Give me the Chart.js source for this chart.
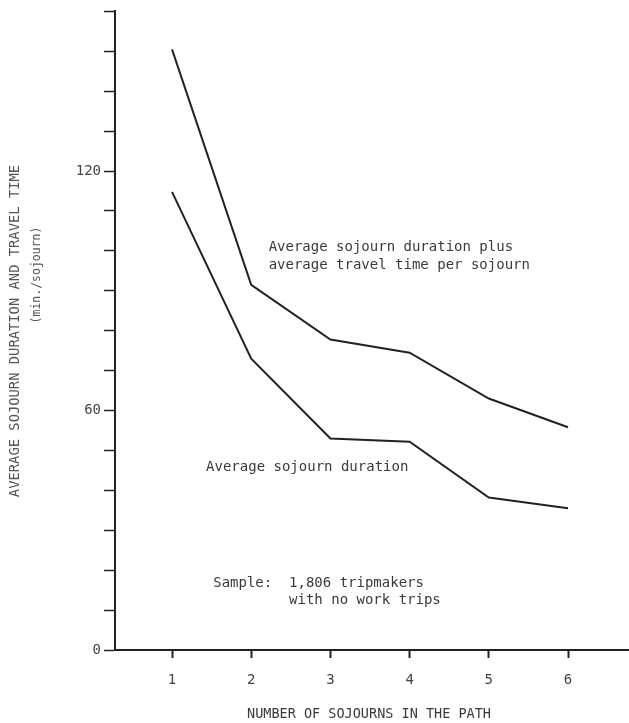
<!DOCTYPE html>
<html>
<head>
<meta charset="utf-8">
<script src="https://cdn.jsdelivr.net/npm/chart.js@4/dist/chart.umd.min.js"></script>
<style>
  html, body { margin: 0; padding: 0; background: #fff; }
  #wrap { width: 629px; height: 723px; position: relative; }
</style>
</head>
<body>
<div id="wrap"><canvas id="c" width="629" height="723"></canvas></div>
<script>
// ---- Data ----
const sojourns = [1, 2, 3, 4, 5, 6];
const durationPlusTravel = [150.5, 91.5, 77.8, 74.5, 63, 55.8];
const durationOnly = [114.8, 73, 53, 52.2, 38.2, 35.5];
const xTickValues = [1, 2, 3, 4, 5, 6];
const yLabelledTicks = [0, 60, 120];

const xTitle = "NUMBER OF SOJOURNS IN THE PATH";
const yTitleLine1 = "AVERAGE SOJOURN DURATION AND TRAVEL TIME";
const yTitleLine2 = "(min./sojourn)";

const annotations = [
  { x: 2.22, y: 100.8, lines: ["Average sojourn duration plus", "average travel time per sojourn"] },
  { x: 1.43, y: 45.8, lines: ["Average sojourn duration"] },
  { x: 1.52, y: 16.8, lines: ["Sample:  1,806 tripmakers", "         with no work trips"] }
];

const MONO = '"DejaVu Sans Mono", "Liberation Mono", monospace';
const INK = '#222';
const TEXT = '#3a3a3a';

const textPlugin = {
  id: 'textPlugin',
  afterDraw(chart) {
    const ctx = chart.ctx;
    const xs = chart.scales.x, ys = chart.scales.y;
    ctx.save();
    ctx.fillStyle = TEXT;
    ctx.textBaseline = 'middle';
    ctx.textAlign = 'left';
    ctx.font = '14px ' + MONO;
    annotations.forEach(a => {
      const px = xs.getPixelForValue(a.x);
      const py = ys.getPixelForValue(a.y);
      a.lines.forEach((ln, i) => ctx.fillText(ln, px, py + i * 17.5));
    });
    // x title
    ctx.textAlign = 'center';
    ctx.font = '13.5px ' + MONO;
    ctx.fillText(xTitle, 369, 714);
    // y title (rotated)
    ctx.save();
    ctx.translate(15, 331);
    ctx.rotate(-Math.PI / 2);
    ctx.font = '13.8px ' + MONO;
    ctx.fillStyle = '#555';
    ctx.fillText(yTitleLine1, 0, 0);
    ctx.restore();
    ctx.save();
    ctx.translate(37, 275);
    ctx.rotate(-Math.PI / 2);
    ctx.font = '11.5px ' + MONO;
    ctx.fillStyle = '#555';
    ctx.fillText(yTitleLine2, 0, 0);
    ctx.restore();
    ctx.restore();
  }
};

new Chart(document.getElementById('c'), {
  type: 'line',
  data: {
    datasets: [
      {
        label: 'Average sojourn duration plus average travel time per sojourn',
        data: sojourns.map((x, i) => ({ x, y: durationPlusTravel[i] })),
        borderColor: INK, borderWidth: 2, pointRadius: 0, tension: 0, fill: false
      },
      {
        label: 'Average sojourn duration',
        data: sojourns.map((x, i) => ({ x, y: durationOnly[i] })),
        borderColor: INK, borderWidth: 2, pointRadius: 0, tension: 0, fill: false
      }
    ]
  },
  options: {
    responsive: false,
    animation: false,
    devicePixelRatio: 1,
    layout: { padding: { top: 11, right: 0, left: 0, bottom: 0 } },
    plugins: { legend: { display: false }, tooltip: { enabled: false }, title: { display: false } },
    scales: {
      x: {
        type: 'linear',
        min: 0.28,
        max: 6.77,
        afterBuildTicks(scale) { scale.ticks = xTickValues.map(v => ({ value: v })); },
        afterFit(scale) { scale.height = 73; },
        border: { display: true, color: INK, width: 2 },
        grid: { drawOnChartArea: false, drawTicks: true, tickLength: 8, color: INK, tickColor: INK, tickWidth: 2 },
        ticks: { color: '#444', font: { family: MONO, size: 14 }, padding: 14, maxRotation: 0, callback: v => String(v) }
      },
      y: {
        type: 'linear',
        min: 0,
        max: 160,
        afterBuildTicks(scale) {
          const t = [];
          for (let v = 0; v <= 160; v += 10) t.push({ value: v });
          scale.ticks = t;
        },
        afterFit(scale) { scale.width = 115; },
        border: { display: true, color: INK, width: 2 },
        grid: { drawOnChartArea: false, drawTicks: true, tickLength: 11, color: INK, tickColor: INK, tickWidth: 1.5 },
        ticks: {
          color: '#444', font: { family: MONO, size: 14 }, padding: 3,
          autoSkip: false,
          callback: v => (yLabelledTicks.includes(v) ? String(v) : '')
        }
      }
    }
  },
  plugins: [textPlugin]
});
</script>
</body>
</html>
